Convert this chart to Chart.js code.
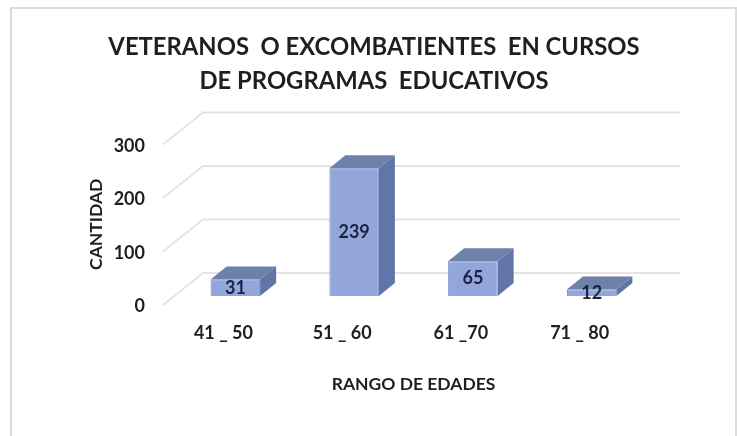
<!DOCTYPE html>
<html>

<head>
    <title>Veteranos</title>
    <script src="https://cdn.jsdelivr.net/npm/chart.js"></script>
    <style>
        body { margin: 0; background: white; }
        #chart { display: block; filter: blur(0.7px); }
    </style>
</head>

<body>
    <canvas id="chart" width="737" height="436"></canvas>
</body>

</html>

<script>
    const categories = ['41 _ 50', '51 _ 60', '61 _70', '71 _ 80'];
    const values = [31, 239, 65, 12];
    const yTicks = [0, 100, 200, 300];
    const titleLines = ['VETERANOS  O EXCOMBATIENTES  EN CURSOS', 'DE PROGRAMAS  EDUCATIVOS'];

    const fontName = 'Lato';
    const textColor = '#1f1f1f';
    const depthX = 16;
    const depthY = 13;

    // the 3d look: walls behind the bars, then sides of each bar
    const walls = {
        id: 'walls',
        beforeDatasetsDraw(chart) {
            const { ctx, chartArea, scales } = chart;
            ctx.save();

            // outer frame
            ctx.strokeStyle = '#dcdcdc';
            ctx.lineWidth = 2;
            ctx.beginPath();
            ctx.moveTo(11, 436);
            ctx.lineTo(11, 8);
            ctx.lineTo(736, 8);
            ctx.lineTo(736, 436);
            ctx.stroke();

            ctx.strokeStyle = '#e4e4e4';
            yTicks.forEach(v => {
                const p = scales.y.getPixelForValue(v);
                ctx.beginPath();
                ctx.moveTo(chartArea.left - 13, p + 9);
                ctx.lineTo(chartArea.left + 27, p - 23);
                ctx.lineTo(chartArea.right + 29, p - 23);
                ctx.stroke();
            });

            chart.getDatasetMeta(0).data.forEach(bar => {
                const left = bar.x - bar.width / 2;
                const right = bar.x + bar.width / 2;
                // top
                ctx.fillStyle = '#6d81ab';
                ctx.beginPath();
                ctx.moveTo(left, bar.y);
                ctx.lineTo(left + depthX, bar.y - depthY);
                ctx.lineTo(right + depthX, bar.y - depthY);
                ctx.lineTo(right, bar.y);
                ctx.closePath();
                ctx.fill();
                // side
                ctx.fillStyle = '#6075a8';
                ctx.beginPath();
                ctx.moveTo(right, bar.y);
                ctx.lineTo(right + depthX, bar.y - depthY);
                ctx.lineTo(right + depthX, bar.base - depthY);
                ctx.lineTo(right, bar.base);
                ctx.closePath();
                ctx.fill();
            });
            ctx.restore();
        },
        afterDatasetsDraw(chart) {
            const { ctx } = chart;
            ctx.save();
            ctx.fillStyle = '#1b2440';
            ctx.font = 'bold 18px ' + fontName;
            ctx.textAlign = 'center';
            ctx.textBaseline = 'middle';
            chart.getDatasetMeta(0).data.forEach((bar, i) => {
                ctx.fillText(values[i], bar.x, (bar.y + bar.base) / 2);
            });
            ctx.restore();
        }
    };

    new Chart(document.getElementById('chart'), {
        type: 'bar',
        data: {
            labels: categories,
            datasets: [{
                data: values,
                backgroundColor: '#93a6dc',
                borderColor: '#7289cb',
                borderWidth: 1,
                barPercentage: 0.417,
                categoryPercentage: 1
            }]
        },
        plugins: [walls],
        options: {
            responsive: false,
            animation: false,
            layout: { padding: { left: 97, right: 86, top: 0, bottom: 40 } },
            plugins: {
                legend: { display: false },
                tooltip: { enabled: false },
                title: {
                    display: true,
                    text: titleLines,
                    color: textColor,
                    font: { family: fontName, size: 23.8, weight: 'bold', lineHeight: 1.43 },
                    padding: { top: 30, bottom: 37.5 }
                }
            },
            scales: {
                x: {
                    grid: { display: false, drawTicks: false },
                    border: { display: false },
                    ticks: {
                        color: textColor,
                        font: { family: fontName, size: 18, weight: 'bold' },
                        padding: 26,
                        labelOffset: -12,
                        maxRotation: 0
                    },
                    title: {
                        display: true,
                        text: 'RANGO DE EDADES',
                        color: textColor,
                        font: { family: fontName, size: 17.5, weight: 'bold' },
                        padding: { top: 0, bottom: 1 }
                    },
                    afterFit(scale) { scale.height = 100; }
                },
                y: {
                    min: 0,
                    max: 300,
                    afterBuildTicks(scale) { scale.ticks = yTicks.map(v => ({ value: v })); },
                    grid: { display: false, drawTicks: false },
                    border: { display: false },
                    ticks: {
                        color: textColor,
                        font: { family: fontName, size: 18, weight: 'bold' },
                        padding: 31,
                        labelOffset: 10.5
                    },
                    title: {
                        display: true,
                        // trailing spaces push the centred text down to where it sits in the picture
                        text: 'CANTIDAD    ',
                        color: textColor,
                        font: { family: fontName, size: 17.5, weight: 'bold' },
                        padding: { top: -11, bottom: 0 }
                    },
                    afterFit(scale) { scale.width = 79; }
                }
            }
        }
    });
</script>
